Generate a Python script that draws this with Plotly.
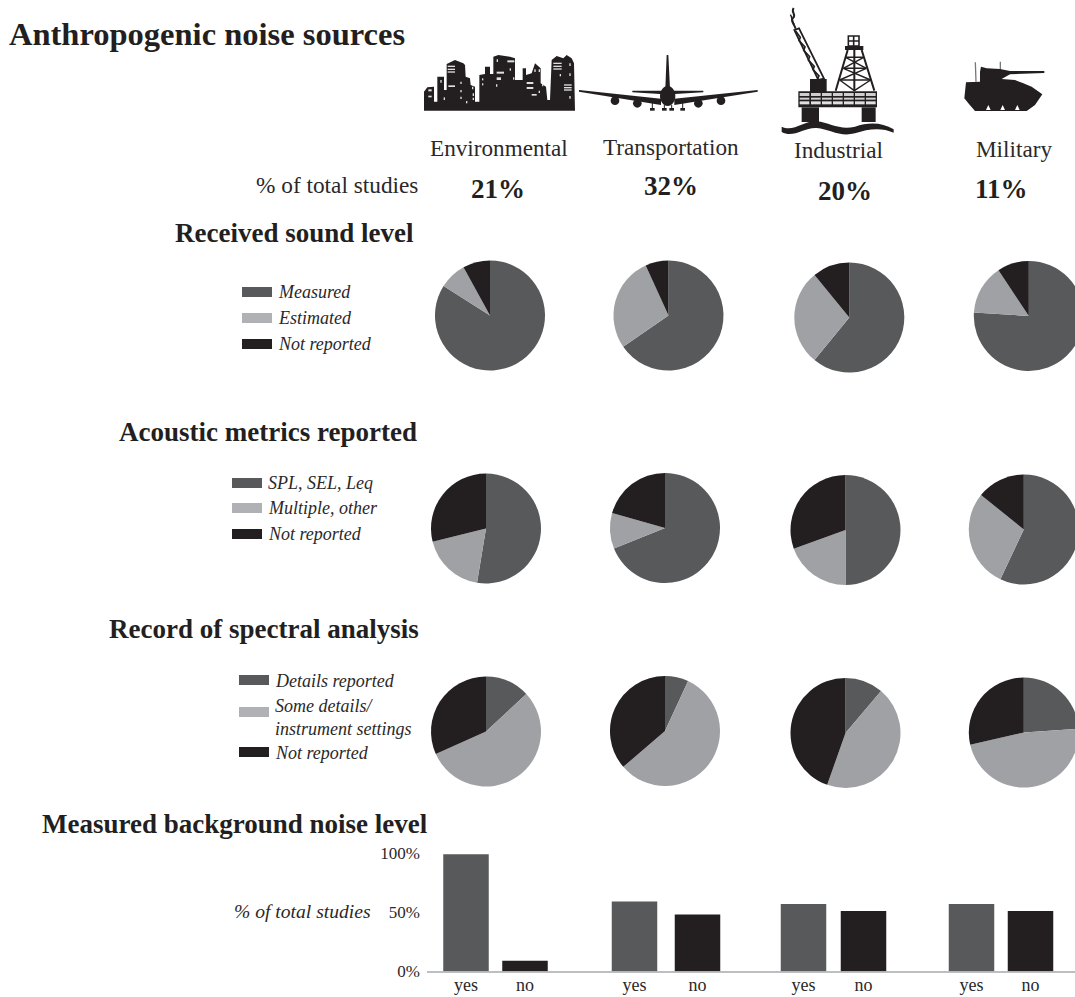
import re
import plotly.graph_objects as go

W, H = 1090, 997
FONT = "Liberation Serif"
DARK, LIGHT, BLACK = "#58595b", "#a0a1a5", "#231f20"
TEXT = "#2b2829"

# ---------- data ----------
sources = ["Environmental", "Transportation", "Industrial", "Military"]
share_of_studies = ["21%", "32%", "20%", "11%"]

sound_labels = ["Measured", "Estimated", "Not reported"]
sound_env = [84, 8, 8]
sound_trans = [65.4, 27.8, 6.8]
sound_ind = [60.9, 28.2, 10.9]
sound_mil = [76, 14.7, 9.3]

metric_labels = ["SPL, SEL, Leq", "Multiple, other", "Not reported"]
metric_env = [52.6, 18.5, 28.9]
metric_trans = [68.9, 10.5, 20.6]
metric_ind = [50, 19.5, 30.5]
metric_mil = [57, 28.8, 14.2]

spectral_labels = ["Details reported", "Some details/ instrument settings", "Not reported"]
spectral_env = [13.1, 55.2, 31.7]
spectral_trans = [6.9, 56.8, 36.3]
spectral_ind = [11.2, 44.2, 44.6]
spectral_mil = [23.9, 47.5, 28.6]

background_labels = ["yes", "no"]
background_env = [99, 9]
background_trans = [59, 48]
background_ind = [57, 51]
background_mil = [57, 51]
background_ticks = [0, 50, 100]

# ---------- pixel helpers ----------
def fx(x):
    return x / W

def fy(y):
    return 1 - y / H

fig = go.Figure()
R = 55

def add_pie(values, labels, cx, cy):
    fig.add_trace(go.Pie(
        values=values, labels=labels, sort=False, direction="clockwise", rotation=0,
        textinfo="none", showlegend=False,
        marker=dict(colors=[DARK, LIGHT, BLACK], line=dict(width=0)),
        domain=dict(x=[fx(cx - R), fx(cx + R)], y=[fy(cy + R), fy(cy - R)]),
    ))

pie_rows = [
    (sound_labels, [sound_env, sound_trans, sound_ind, sound_mil],
     [(490, 315.5), (668.5, 315.5), (849.3, 317.5), (1028.8, 316)]),
    (metric_labels, [metric_env, metric_trans, metric_ind, metric_mil],
     [(486, 528.5), (665, 528), (845.5, 530), (1023.8, 529.5)]),
    (spectral_labels, [spectral_env, spectral_trans, spectral_ind, spectral_mil],
     [(486, 731.5), (665, 731), (845.5, 733), (1023.8, 732.5)]),
]
for labels, vals, centres in pie_rows:
    for v, (cx, cy) in zip(vals, centres):
        add_pie(v, labels, cx, cy)

# ---------- bars: one small x axis per source, one shared y axis ----------
bar_groups = [
    (background_env, "x", 466, 525),
    (background_trans, "x2", 634.5, 697.5),
    (background_ind, "x3", 803.5, 863.5),
    (background_mil, "x4", 971.5, 1030.5),
]
axis_common = dict(
    type="category", categoryorder="array", categoryarray=background_labels,
    range=[-0.5, 1.5], showline=False, showgrid=False, zeroline=False, automargin=False,
    ticks="", tickfont=dict(family=FONT, size=18, color=TEXT), anchor="y", fixedrange=True,
)
axes = {}
for i, (vals, ax, c0, c1) in enumerate(bar_groups):
    sp = c1 - c0
    fig.add_trace(go.Bar(
        x=background_labels, y=vals, xaxis=ax, yaxis="y", width=45.5 / sp,
        marker=dict(color=[DARK, BLACK], line=dict(width=0)), showlegend=False,
    ))
    name = "xaxis" if i == 0 else f"xaxis{i + 1}"
    axes[name] = dict(axis_common, domain=[fx(c0 - sp / 2), fx(c1 + sp / 2)])

# ---------- text ----------
ann = []
def text(s, x, y, size, anchor="left", bold=False, italic=False, color=TEXT):
    if bold:
        s = f"<b>{s}</b>"
    if italic:
        s = f"<i>{s}</i>"
    ann.append(dict(text=s, x=fx(x), y=fy(y), xref="paper", yref="paper", showarrow=False,
                    xanchor=anchor, yanchor="middle", borderpad=0,
                    font=dict(family=FONT, size=size, color=color)))

text("Anthropogenic noise sources", 8, 34, 32.5, bold=True, color=BLACK)
for s, x, y in zip(sources, [499, 671, 838, 1014], [148, 147, 150, 149]):
    text(s, x, y, 23.2, "center")
text("% of total studies", 419, 185, 23.3, "right")
for s, x, y in zip(share_of_studies, [498, 671, 845, 1001], [189, 186, 191, 189]):
    text(s, x, y, 27, "center", bold=True, color=BLACK)
text("Received sound level", 415, 233, 27, "right", bold=True, color=BLACK)
text("Acoustic metrics reported", 418, 432, 27, "right", bold=True, color=BLACK)
text("Record of spectral analysis", 420, 629, 27, "right", bold=True, color=BLACK)
text("Measured background noise level", 429, 824, 27, "right", bold=True, color=BLACK)
text("% of total studies", 372, 911, 19.6, "right", italic=True)

# legends
shapes = []
def rect(x0, y0, x1, y1, color):
    shapes.append(dict(type="rect", xref="paper", yref="paper", x0=fx(x0), x1=fx(x1),
                       y0=fy(y1), y1=fy(y0), fillcolor=color, line=dict(width=0), layer="above"))

LEG_LIGHT = "#b0b1b4"
for lab, c, yc in zip(sound_labels, [DARK, LEG_LIGHT, BLACK], [292, 318, 344]):
    rect(242, yc - 5, 272, yc + 5, c)
    text(lab, 277, yc, 18, italic=True)
for lab, c, yc in zip(metric_labels, [DARK, LEG_LIGHT, BLACK], [483, 508, 534]):
    rect(232, yc - 5, 262, yc + 5, c)
    text(lab, 267, yc, 18, italic=True)
for c, yc in zip([DARK, LEG_LIGHT, BLACK], [680, 712, 752]):
    rect(239, yc - 5, 269, yc + 5, c)
for s, yc in zip(["Details reported", "Some details/", "instrument settings", "Not reported"], [681, 706, 729, 753]):
    text(s, 274, yc, 18, italic=True)

# baseline of the bar panel
shapes.append(dict(type="line", xref="paper", yref="paper", x0=fx(427), x1=fx(W),
                   y0=fy(972), y1=fy(972), line=dict(color="#a7a9ac", width=1.5)))

# ---------- pictograms (decorative silhouettes drawn as shapes) ----------
def to_paper(d, ox, oy, k=3.0):
    nums = iter(re.findall(r"[A-Za-z]|-?\d+\.?\d*", d))
    out, is_x = [], True
    for t in nums:
        if t.isalpha():
            out.append(t)
            is_x = True
        else:
            v = float(t)
            out.append(f"{fx(ox + v / k):.5f}" if is_x else f"{fy(oy + v / k):.5f}")
            is_x = not is_x
    return " ".join(out)

def icon_fill(d, ox, oy, color=BLACK):
    shapes.append(dict(type="path", xref="paper", yref="paper", path=to_paper(d, ox, oy),
                       fillcolor=color, line=dict(width=0), layer="above"))

def icon_line(d, ox, oy, width=1.2, color=BLACK):
    shapes.append(dict(type="path", xref="paper", yref="paper", path=to_paper(d, ox, oy),
                       line=dict(color=color, width=width), layer="above"))

def poly(points):
    return "M" + " L".join(f"{x},{y}" for x, y in points) + " Z"

def box(x0, y0, x1, y1):
    return poly([(x0, y0), (x1, y0), (x1, y1), (x0, y1)])

def circle(cx, cy, rx, ry=None):
    ry = ry or rx
    c = 0.5523
    return (f"M{cx - rx},{cy} C{cx - rx},{cy - c * ry} {cx - c * rx},{cy - ry} {cx},{cy - ry} "
            f"C{cx + c * rx},{cy - ry} {cx + rx},{cy - c * ry} {cx + rx},{cy} "
            f"C{cx + rx},{cy + c * ry} {cx + c * rx},{cy + ry} {cx},{cy + ry} "
            f"C{cx - c * rx},{cy + ry} {cx - rx},{cy + c * ry} {cx - rx},{cy} Z")

# city
ox, oy = 420, 50
icon_fill(poly([(12, 182), (12, 125), (22, 112), (42, 110), (42, 155), (52, 155), (52, 80), (72, 80),
                (72, 120), (80, 120), (80, 42), (105, 30), (130, 40), (135, 45), (137, 80), (150, 85),
                (152, 105), (165, 110), (165, 155), (178, 155), (178, 75), (195, 72), (195, 50),
                (210, 50), (210, 72), (220, 72), (220, 20), (235, 15), (270, 20), (285, 25), (285, 90),
                (308, 90), (308, 55), (318, 55), (318, 75), (335, 70), (345, 40), (362, 55), (362, 100),
                (378, 110), (382, 150), (390, 150), (395, 30), (410, 18), (430, 25), (440, 15),
                (455, 25), (462, 40), (465, 182)]), ox, oy)
windows = [(83, 47, 105, 51), (83, 56, 105, 60), (83, 64, 105, 68), (85, 106, 105, 111),
           (400, 38, 425, 42), (400, 47, 425, 51), (400, 55, 425, 59),
           (432, 103, 455, 107), (432, 111, 455, 115), (432, 118, 455, 122),
           (230, 65, 252, 71), (230, 82, 243, 90), (262, 31, 283, 37),
           (320, 96, 340, 102), (320, 111, 340, 117), (335, 132, 350, 137),
           (25, 118, 35, 124), (25, 137, 35, 142), (61, 90, 65, 98), (71, 142, 75, 150),
           (121, 95, 125, 102), (121, 120, 125, 127), (121, 140, 125, 147), (138, 153, 142, 160),
           (156, 110, 160, 118), (158, 130, 162, 138), (158, 143, 162, 150), (186, 85, 190, 91),
           (186, 100, 190, 106), (230, 28, 234, 36), (228, 103, 232, 110), (269, 55, 273, 62),
           (279, 82, 283, 89), (343, 58, 347, 66), (356, 58, 360, 66), (366, 102, 370, 109),
           (356, 122, 360, 129), (419, 72, 423, 79), (448, 70, 452, 78), (448, 40, 452, 48),
           (448, 138, 452, 146)]
for w in windows:
    icon_fill(box(*w), ox, oy, "#e0e0e0")

# aeroplane
ox, oy = 575, 50
icon_fill(poly([(275, 15), (280, 15), (285, 115), (271, 115)]), ox, oy)
icon_fill(circle(278, 138, 23, 30), ox, oy)
icon_fill(poly([(12, 120), (258, 146), (258, 165), (12, 125)]), ox, oy)
icon_fill(poly([(548, 120), (298, 146), (298, 165), (548, 125)]), ox, oy)
icon_fill(poly([(172, 122), (385, 122), (385, 127), (300, 132), (255, 132), (172, 127)]), ox, oy)
for cx, cy in [(120, 152), (187, 160), (370, 160), (438, 152)]:
    icon_fill(circle(cx, cy, 13), ox, oy)
for gx, gy in [(232, 155), (268, 165), (290, 165), (323, 155)]:
    icon_fill(box(gx - 1.5, gy, gx + 1.5, 178), ox, oy)
    icon_fill(box(gx - 7, 174, gx + 7, 182), ox, oy)

# oil platform
ox, oy = 775, 0
icon_line("M56,24 C46,38 66,42 54,54 C44,62 58,72 62,86", ox, oy, 2)
icon_line("M46,44 C52,52 50,62 58,74", ox, oy, 1.5)
icon_line(poly([(58, 90), (72, 85), (147, 236), (130, 240)]), ox, oy, 1.8)
boom = [(62, 93), (76, 112), (72, 122), (90, 141), (86, 151), (104, 170), (100, 180), (118, 199), (114, 209),
        (132, 228), (128, 236)]
icon_line("M" + " L".join(f"{x},{y}" for x, y in boom), ox, oy, 1.6)
icon_fill(box(105, 237, 155, 276), ox, oy)
icon_line("M218,150 L182,272 M260,150 L298,272 M238,150 L238,272", ox, oy, 2)
icon_line("M212,172 L266,172 M205,205 L274,205 M194,240 L287,240", ox, oy, 1.5)
icon_line("M212,172 L274,205 M266,172 L205,205 M205,205 L287,240 M274,205 L194,240 "
          "M194,240 L238,272 M287,240 L238,272", ox, oy, 1.4)
icon_line(box(220, 108, 252, 138) + " M236,108 L236,138 M220,123 L252,123", ox, oy, 1.6)
icon_fill(box(210, 138, 265, 150), ox, oy)
icon_fill(box(70, 274, 306, 322), ox, oy)
for cx0 in [74, 108, 141, 174, 207, 240, 273]:
    icon_fill(box(cx0, 279, cx0 + 29, 288), ox, oy, "#cfcfcf")
    icon_fill(box(cx0, 293, cx0 + 29, 299), ox, oy, "#cfcfcf")
    icon_fill(box(cx0, 304, cx0 + 29, 313), ox, oy, "#e0e0e0")
icon_fill(box(80, 322, 132, 366), ox, oy)
icon_fill(box(260, 322, 302, 366), ox, oy)
icon_fill("M20,380 C55,398 85,362 125,364 C165,368 195,392 240,380 C280,366 320,366 356,388 "
          "L356,398 C320,382 280,386 240,400 C195,412 165,388 125,384 C85,382 55,416 20,396 Z", ox, oy)

# armoured vehicle
ox, oy = 955, 55
icon_line("M61,22 L63,80 M136,20 L136,45", ox, oy, 1.3, "#777777")
icon_fill(poly([(33, 82), (75, 80), (75, 50), (78, 35), (95, 40), (135, 42), (165, 48), (268, 48), (268, 54),
                (165, 58), (140, 72), (180, 75), (205, 85), (230, 95), (262, 118), (240, 150), (215, 168),
                (60, 168), (40, 145), (28, 130)]), ox, oy)
for wx in [100, 143, 187]:
    icon_fill(poly([(wx - 7, 165), (wx, 150), (wx + 7, 165)]), ox, oy, "#ffffff")

fig.update_layout(
    width=W, height=H, margin=dict(l=0, r=0, t=0, b=0), autosize=False,
    paper_bgcolor="white", plot_bgcolor="rgba(0,0,0,0)", showlegend=False,
    font=dict(family=FONT, color=TEXT), annotations=ann, shapes=shapes,
    yaxis=dict(domain=[fy(971.5), fy(853)], range=[0, 100], anchor="free", position=fx(420),
               tickmode="array", tickvals=background_ticks,
               ticktext=[f"{v}%" for v in background_ticks], automargin=False,
               showline=False, showgrid=False, zeroline=False,
               ticks="", tickfont=dict(family=FONT, size=17, color=TEXT), fixedrange=True),
    **axes,
)

fig.write_html(
    "out.html",
    config=dict(displayModeBar=False),
    post_script="document.body.style.margin='0';document.documentElement.style.overflow='hidden';"
                "document.body.style.overflow='hidden';",
)
